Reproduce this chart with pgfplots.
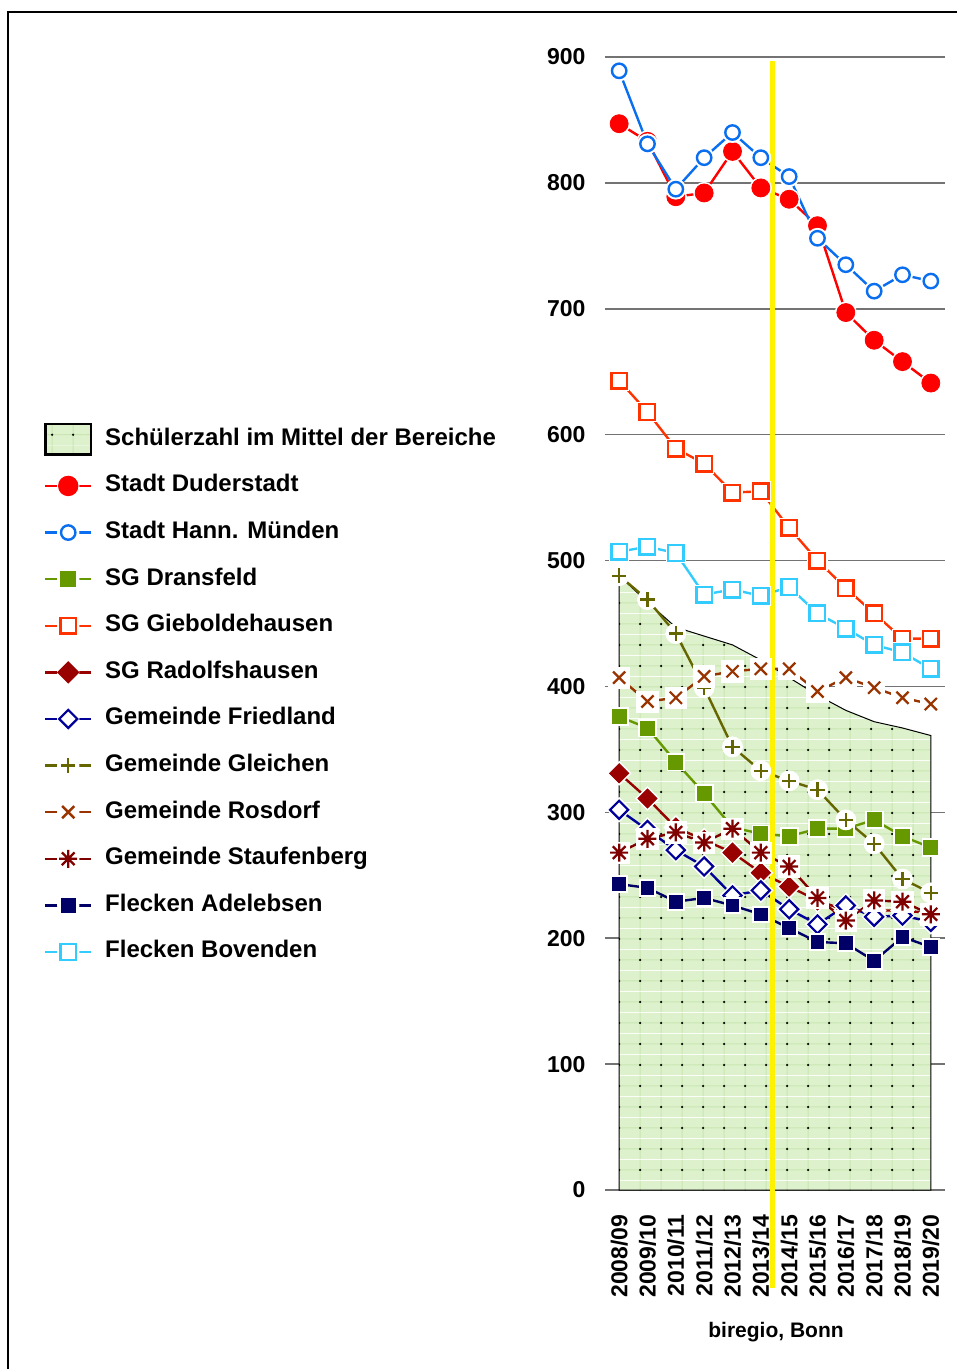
\documentclass[border=0pt]{standalone}
\usepackage{fontspec}
\setmainfont{Liberation Sans}
\usepackage{pgfplots}
\usepackage{pgfplotstable}
\pgfplotsset{compat=1.18}
\usetikzlibrary{patterns}

\definecolor{cDud}{HTML}{FF0000}
\definecolor{cHmu}{HTML}{0A6EF0}
\definecolor{cDra}{HTML}{669900}
\definecolor{cGie}{HTML}{FF3300}
\definecolor{cRad}{HTML}{990000}
\definecolor{cFri}{HTML}{000099}
\definecolor{cGle}{HTML}{666600}
\definecolor{cRos}{HTML}{993300}
\definecolor{cSta}{HTML}{800000}
\definecolor{cAde}{HTML}{000066}
\definecolor{cBov}{HTML}{33CCFF}
\definecolor{areagreen}{HTML}{DDF1CC}
\definecolor{gridgreen}{HTML}{C8E6B0}

\pgfdeclarepatterninherentlycolored{areapat}{\pgfpointorigin}{\pgfqpoint{10.5pt}{10.5pt}}{\pgfqpoint{10.5pt}{10.5pt}}{%
  \pgfsetfillcolor{areagreen}%
  \pgfpathrectangle{\pgfpointorigin}{\pgfqpoint{10.5pt}{10.5pt}}\pgfusepath{fill}%
  \pgfsetstrokecolor{gridgreen}\pgfsetlinewidth{0.5pt}%
  \pgfpathmoveto{\pgfqpoint{5.25pt}{0pt}}\pgfpathlineto{\pgfqpoint{5.25pt}{10.5pt}}%
  \pgfpathmoveto{\pgfqpoint{0pt}{5.25pt}}\pgfpathlineto{\pgfqpoint{10.5pt}{5.25pt}}%
  \pgfusepath{stroke}%
  \pgfsetfillcolor{black}%
  \pgfpathcircle{\pgfqpoint{5.25pt}{5.25pt}}{0.65pt}\pgfusepath{fill}}

% eight-armed star
\pgfdeclareplotmark{star8}{%
  \pgfpathmoveto{\pgfqpoint{-\pgfplotmarksize}{0pt}}\pgfpathlineto{\pgfqpoint{\pgfplotmarksize}{0pt}}%
  \pgfpathmoveto{\pgfqpoint{0pt}{-\pgfplotmarksize}}\pgfpathlineto{\pgfqpoint{0pt}{\pgfplotmarksize}}%
  \pgfpathmoveto{\pgfqpoint{-.707\pgfplotmarksize}{-.707\pgfplotmarksize}}\pgfpathlineto{\pgfqpoint{.707\pgfplotmarksize}{.707\pgfplotmarksize}}%
  \pgfpathmoveto{\pgfqpoint{-.707\pgfplotmarksize}{.707\pgfplotmarksize}}\pgfpathlineto{\pgfqpoint{.707\pgfplotmarksize}{-.707\pgfplotmarksize}}%
  \pgfusepathqstroke}

\pgfplotstableread{
x dud hmu dra gie rad fri gle ros sta ade bov mean
0 847 889 376 643 331 302 488 407 268 243 507 488
1 833 831 367 618 311 286 469 388 279 240 511 467
2 789 795 340 589 288 270 442 391 284 229 506 447
3 792 820 315 577 278 257 399 408 276 232 473 440
4 825 840 288 554 268 234 352 412 287 226 477 433
5 796 820 283 555 252 238 333 414 268 219 472 421
6 787 805 281 526 241 223 325 414 257 208 479 407
7 766 756 287 500 230 211 318 396 232 197 458 393
8 697 735 287 478 222 226 294 407 214 196 446 381
9 675 714 294 458 222 217 275 399 230 182 433 372
10 658 727 281 438 222 218 247 391 229 201 427 367
11 641 722 272 438 220 213 236 386 219 193 414 361
}\data

% line, white halo, marks
\newcommand{\series}[4]{%
  \addplot[forget plot, #2, line width=1.2pt, mark=none] table[x=x,y=#1]{\data};
  \addplot[forget plot, only marks, white, #3] table[x=x,y=#1]{\data};
  \addplot[forget plot, only marks, #2, #4] table[x=x,y=#1]{\data};}

\begin{document}
\begin{tikzpicture}
\useasboundingbox (-302.5pt,-89.5pt) rectangle (176pt,595pt);
\draw[line width=0.8pt] (-298.5pt,-89.5pt) -- (-298.5pt,589pt) -- (176pt,589pt);
\begin{axis}[at={(0,0)}, anchor=south west, scale only axis,
  width=170pt, height=566.5pt,
  xmin=-0.5, xmax=11.5, ymin=0, ymax=900, clip=false,
  axis line style={draw=none}, major tick length=0pt,
  ytick={0,100,...,900}, xtick={0,...,11},
  xticklabels={2008/09,2009/10,2010/11,2011/12,2012/13,2013/14,2014/15,2015/16,2016/17,2017/18,2018/19,2019/20},
  ymajorgrids, grid style={black!55, line width=0.75pt},
  /pgf/number format/assume math mode=true,
  ticklabel style={font=\fontsize{11.5}{13}\selectfont\bfseries},
  xticklabel style={rotate=90, anchor=east}, xticklabel shift=8.7pt,
  yticklabel style={anchor=east}, yticklabel shift=6.2pt,
  legend cell align=left,
  legend style={at={(-1.668,0.677)}, anchor=north west, draw=none, fill=none,
    font=\fontsize{12}{14}\selectfont\bfseries, row sep=11.3pt, column sep=6.5pt,
    nodes={inner sep=0pt, text height=9pt, text depth=3pt}},
  legend image code/.code={%
    \draw[#1, mark=none] (0cm,0cm) -- (0.8cm,0cm);
    \fill[white] (0.4cm,0cm) circle (5pt);
    \draw[#1] plot coordinates {(0.4cm,0cm)};},
]
\addplot[forget plot, pattern=areapat, draw=black, line width=0.5pt] table[x=x,y=mean]{\data} \closedcycle;

\series{dud}{cDud}{mark=*, mark size=5.3pt}{mark=*, mark size=4.5pt}
\series{hmu}{cHmu}{mark=*, mark size=5pt}{mark=*, mark size=3.6pt, mark options={fill=white, line width=1.2pt}}
\series{dra}{cDra}{mark=square*, mark size=4.4pt}{mark=square*, mark size=3.5pt}
\series{gie}{cGie}{mark=square*, mark size=4.8pt}{mark=square*, mark size=3.9pt, mark options={fill=white, line width=1.2pt}}
\series{rad}{cRad}{mark=square*, mark size=4.2pt, mark options={rotate=45}}{mark=square*, mark size=3.4pt, mark options={rotate=45}}
\series{fri}{cFri}{mark=square*, mark size=4.3pt, mark options={rotate=45}}{mark=square*, mark size=3.2pt, mark options={rotate=45, fill=white, line width=1.1pt}}
\series{gle}{cGle}{mark=*, mark size=5pt}{mark=+, mark size=3.6pt, mark options={line width=1.1pt}}
\series{ros}{cRos}{mark=square*, mark size=5.3pt}{mark=x, mark size=4.3pt, mark options={line width=1.1pt}}
\series{sta}{cSta}{mark=square*, mark size=5.3pt}{mark=star8, mark size=4.5pt, mark options={line width=1.1pt}}
\series{ade}{cAde}{mark=square*, mark size=4.1pt}{mark=square*, mark size=3.2pt}
\series{bov}{cBov}{mark=square*, mark size=4.8pt}{mark=square*, mark size=3.9pt, mark options={fill=white, line width=1.2pt}}

\addlegendimage{legend image code/.code={\draw[overlay, pattern=areapat, draw=black, line width=1.4pt] (0cm,-0.27cm) rectangle (0.8cm,0.27cm);}}
\addlegendentry{Schülerzahl im Mittel der Bereiche}
\addlegendimage{cDud, line width=1.2pt, mark=*, mark size=4.5pt}
\addlegendentry{Stadt Duderstadt}
\addlegendimage{cHmu, line width=1.2pt, mark=*, mark size=3.6pt, mark options={fill=white}}
\addlegendentry{Stadt Hann. Münden}
\addlegendimage{cDra, line width=1.2pt, mark=square*, mark size=3.5pt}
\addlegendentry{SG Dransfeld}
\addlegendimage{cGie, line width=1.2pt, mark=square*, mark size=3.9pt, mark options={fill=white}}
\addlegendentry{SG Gieboldehausen}
\addlegendimage{cRad, line width=1.2pt, mark=square*, mark size=3.4pt, mark options={rotate=45}}
\addlegendentry{SG Radolfshausen}
\addlegendimage{cFri, line width=1.2pt, mark=square*, mark size=3.2pt, mark options={rotate=45, fill=white, line width=1.1pt}}
\addlegendentry{Gemeinde Friedland}
\addlegendimage{cGle, line width=1.2pt, mark=+, mark size=3.6pt}
\addlegendentry{Gemeinde Gleichen}
\addlegendimage{cRos, line width=1.2pt, mark=x, mark size=4.3pt}
\addlegendentry{Gemeinde Rosdorf}
\addlegendimage{cSta, line width=1.2pt, mark=star8, mark size=4.5pt}
\addlegendentry{Gemeinde Staufenberg}
\addlegendimage{cAde, line width=1.2pt, mark=square*, mark size=3.2pt}
\addlegendentry{Flecken Adelebsen}
\addlegendimage{cBov, line width=1.2pt, mark=square*, mark size=3.9pt, mark options={fill=white}}
\addlegendentry{Flecken Bovenden}

\draw[yellow, line width=2.5pt] (axis cs:5.41,897) -- (axis cs:5.41,-78);
\end{axis}
\node[font=\fontsize{10.5}{12}\selectfont\bfseries] at (85.5pt,-71pt) {biregio, Bonn};
\end{tikzpicture}
\end{document}
